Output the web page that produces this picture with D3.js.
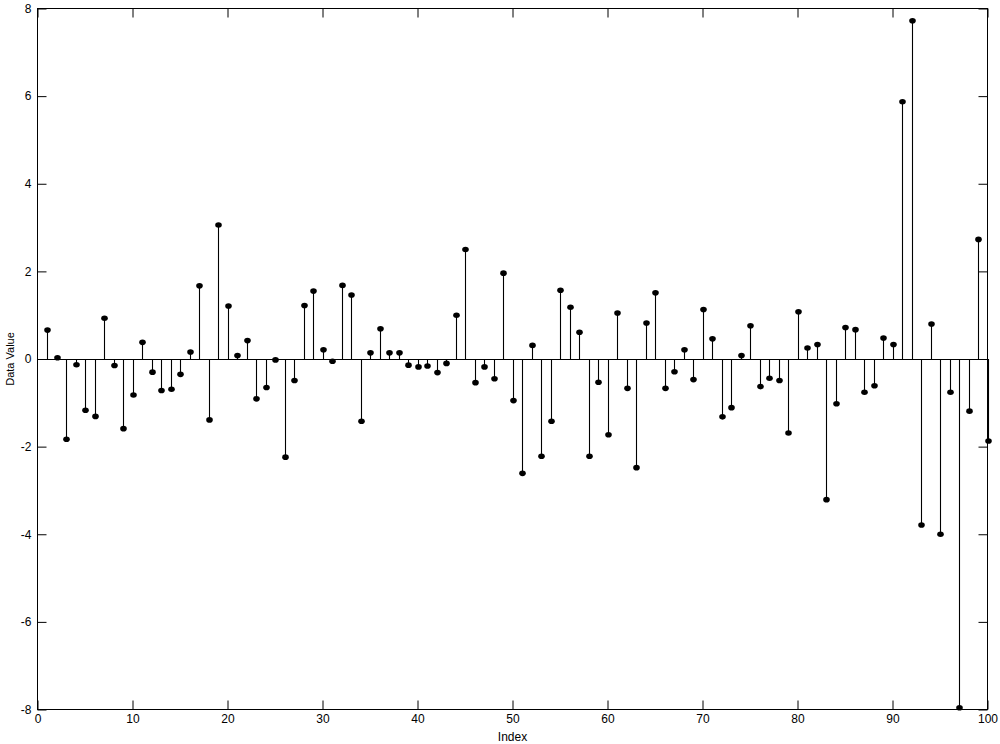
<!DOCTYPE html>
<html>
<head>
<meta charset="utf-8">
<script src="https://cdn.jsdelivr.net/npm/d3@7"></script>
<style>
	body { margin: 0; background: #fff; }
	svg { display: block; font-family: "Liberation Sans", Arial, sans-serif; }
</style>
</head>
<body>
<div class="chart"></div>
<script>
// stem data: index 1..100
const index = d3.range(1, 101)
const values = [
	0.66, 0.03, -1.83, -0.13, -1.17, -1.31, 0.93, -0.15, -1.59, -0.82,
	0.38, -0.30, -0.72, -0.69, -0.35, 0.16, 1.67, -1.39, 3.06, 1.21,
	0.08, 0.42, -0.91, -0.65, -0.02, -2.24, -0.49, 1.22, 1.55, 0.21,
	-0.05, 1.68, 1.46, -1.42, 0.14, 0.69, 0.14, 0.14, -0.14, -0.18,
	-0.16, -0.31, -0.10, 1.00, 2.50, -0.54, -0.18, -0.45, 1.96, -0.95,
	-2.61, 0.31, -2.22, -1.42, 1.57, 1.18, 0.61, -2.22, -0.53, -1.73,
	1.05, -0.67, -2.48, 0.82, 1.51, -0.67, -0.29, 0.21, -0.47, 1.13,
	0.46, -1.32, -1.11, 0.08, 0.76, -0.63, -0.44, -0.49, -1.69, 1.08,
	0.25, 0.33, -3.21, -1.02, 0.72, 0.67, -0.76, -0.61, 0.48, 0.33,
	5.87, 7.72, -3.79, 0.80, -4.00, -0.76, -7.96, -1.19, 2.73, -1.87
]
const xTicks = [0, 10, 20, 30, 40, 50, 60, 70, 80, 90, 100]
const yTicks = [-8, -6, -4, -2, 0, 2, 4, 6, 8]

let width = 1000
let height = 744
let plotLeft = 37.5, plotRight = 987.5, plotTop = 8.5, plotBottom = 709.5

let svg = d3.select(".chart")
	.append("svg")
	.attr("width", width)
	.attr("height", height)

let x = d3.scaleLinear().domain([0, 100]).range([plotLeft, plotRight])
let y = d3.scaleLinear().domain([-8, 8]).range([plotBottom, plotTop])

const tickLen = 9
const fmt = d => String(d)  // plain hyphen minus like the original

// bottom axis (ticks inward)
svg.append("g")
	.attr("transform", `translate(0,${plotBottom})`)
	.call(d3.axisBottom(x).tickValues(xTicks).tickFormat(fmt).tickSizeInner(-tickLen).tickSizeOuter(0).tickPadding(5))
	.call(g => g.select(".domain").remove())
// top axis ticks only
svg.append("g")
	.attr("transform", `translate(0,${plotTop})`)
	.call(d3.axisTop(x).tickValues(xTicks).tickSizeInner(-tickLen).tickSizeOuter(0).tickFormat(""))
	.call(g => g.select(".domain").remove())
// left axis
svg.append("g")
	.attr("transform", `translate(${plotLeft},0)`)
	.call(d3.axisLeft(y).tickValues(yTicks).tickFormat(fmt).tickSizeInner(-tickLen).tickSizeOuter(0).tickPadding(6))
	.call(g => g.select(".domain").remove())
// right axis ticks only
svg.append("g")
	.attr("transform", `translate(${plotRight},0)`)
	.call(d3.axisRight(y).tickValues(yTicks).tickSizeInner(-tickLen).tickSizeOuter(0).tickFormat(""))
	.call(g => g.select(".domain").remove())

svg.selectAll(".tick text")
	.attr("fill", "#000")
	.style("font-size", "12px")
svg.selectAll(".tick line")
	.attr("stroke", "#000")

// frame
svg.append("rect")
	.attr("x", plotLeft)
	.attr("y", plotTop)
	.attr("width", plotRight - plotLeft)
	.attr("height", plotBottom - plotTop)
	.attr("fill", "none")
	.attr("stroke", "#000")
	.attr("stroke-width", 1)

// baseline
svg.append("line")
	.attr("x1", plotLeft)
	.attr("x2", plotRight)
	.attr("y1", Math.round(y(0)) + 0.5)
	.attr("y2", Math.round(y(0)) + 0.5)
	.attr("stroke", "#000")

// stems
svg.selectAll("line.stem")
	.data(values)
	.join("line")
	.attr("class", "stem")
	.attr("x1", (d, i) => Math.round(x(index[i])) + 0.5)
	.attr("x2", (d, i) => Math.round(x(index[i])) + 0.5)
	.attr("y1", y(0))
	.attr("y2", d => y(d))
	.attr("stroke", "#000")
	.attr("stroke-width", 1.1)

// markers
svg.selectAll("ellipse.dot")
	.data(values)
	.join("ellipse")
	.attr("class", "dot")
	.attr("cx", (d, i) => Math.round(x(index[i])) + 0.5)
	.attr("cy", d => y(d))
	.attr("rx", 3.3)
	.attr("ry", 2.8)
	.attr("fill", "#000")

// axis labels
svg.append("text")
	.attr("x", (plotLeft + plotRight) / 2)
	.attr("y", 741)
	.attr("text-anchor", "middle")
	.style("font-size", "12px")
	.text("Index")

svg.append("text")
	.attr("transform", `translate(14,${(plotTop + plotBottom) / 2}) rotate(-90)`)
	.attr("text-anchor", "middle")
	.style("font-size", "11px")
	.text("Data Value")
</script>
</body>
</html>
